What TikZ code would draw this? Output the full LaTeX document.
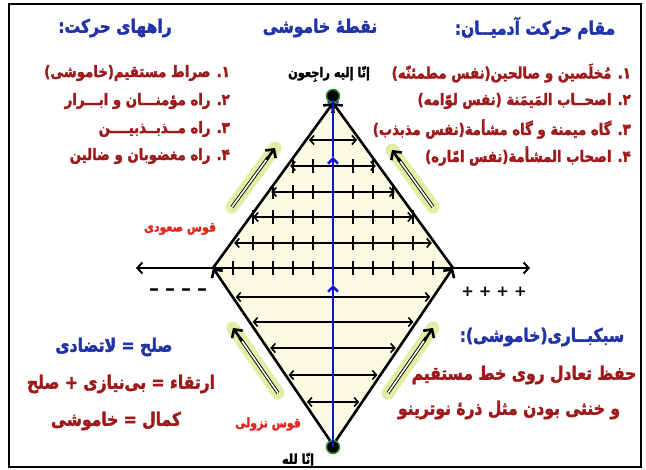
\documentclass[tikz,border=0pt]{standalone}
\usepackage{fontspec}
\newfontfamily\fa[Script=Arabic, FakeStretch=0.84, BoldFeatures={FakeBold=2}]{DejaVu Sans}
\newfontfamily\signs{DejaVu Sans}
\TeXXeTstate=1
\usetikzlibrary{arrows.meta, calc}
\definecolor{ttlblue}{HTML}{2233A8}
\definecolor{lstred}{HTML}{9E1A1A}
\definecolor{arcred}{HTML}{E2231E}
\definecolor{lineblue}{HTML}{1010E0}
\definecolor{cream}{HTML}{FAFBE2}
\definecolor{glow}{HTML}{D6EA86}
\definecolor{dotgreen}{HTML}{2E8B2E}

\begin{document}
\begin{tikzpicture}[x=1pt, y=-1pt,
  ttl/.style={font=\fa\bfseries\fontsize{18.5}{20}\selectfont, text=ttlblue, inner sep=0pt},
  lst/.style={font=\fa\bfseries\fontsize{15.8}{17}\selectfont, text=lstred, anchor=east, inner sep=0pt},
  big/.style={font=\fa\bfseries\fontsize{18.5}{20}\selectfont, text=lstred, inner sep=0pt},
  blk/.style={font=\fa\bfseries\fontsize{13.5}{15}\selectfont, text=black, inner sep=0pt},
  arc/.style={font=\fa\bfseries\fontsize{13}{15}\selectfont, text=arcred, inner sep=0pt},
  rowarr/.style={line width=1.6pt, {Straight Barb[length=4pt,width=9pt]}-{Straight Barb[length=4pt,width=9pt]}},
  edgearr/.style={line width=2.6pt, line cap=round, -{Straight Barb[length=6pt,width=13pt]}},
  bluearr/.style={lineblue, line width=2.4pt, -{Straight Barb[length=5pt,width=10pt]}},
  tickmark/.style={line width=1.6pt}]

\useasboundingbox (0,0) rectangle (646,470);
% frame
\draw[line width=1.5pt] (9,4) rectangle (641,467);

% Titles
\node[ttl] (ttlPaths) at (115,28) {\beginR راههای حرکت:\endR};
\node[ttl] (ttlPoint) at (320,28) {\beginR نقطهٔ خاموشی\endR};
\node[ttl] (ttlStation) at (535,28) {\beginR مقام حرکت آدمیــان:\endR};

% --- left list ---
\node[lst] (lstL1) at (230,73) {\beginR ۱. صراط مستقیم(خاموشی)\endR};
\node[lst] (lstL2) at (230,101) {\beginR ۲. راه مؤمنـــان و ابـــرار\endR};
\node[lst] (lstL3) at (230,129) {\beginR ۳. راه مــذبــذبیــــن\endR};
\node[lst] (lstL4) at (230,156) {\beginR ۴. راه مغضوبان و ضالین\endR};

% --- right list ---
\node[lst] (lstR1) at (631,73) {\beginR ۱. مُخلَصین و صالحین(نفس مطمئنّه)\endR};
\node[lst] (lstR2) at (631,101) {\beginR ۲. اصحــاب المَیمَنة (نفس لوّامه)\endR};
\node[lst] (lstR3) at (631,129) {\beginR ۳. گاه میمنة و گاه مشأمة(نفس مذبذب)\endR};
\node[lst] (lstR4) at (631,156) {\beginR ۴. اصحاب المشأمة(نفس امّاره)\endR};

% Diamond corners
\coordinate (top) at (333,103);
\coordinate (lft) at (213,268);
\coordinate (rgt) at (453,268);
\coordinate (bot) at (333,445);
\fill[cream] (top) -- (rgt) -- (bot) -- (lft) -- cycle;

% upper rows with ticks
\draw[rowarr] (309,140) -- (357,140);
\foreach \yy/\nt in {166/2, 192/3, 217/4, 243/4} {
  \pgfmathsetmacro\hw{(\yy-103)/165*120-3}
  \draw[rowarr] ({333-\hw},\yy) -- ({333+\hw},\yy);
  \foreach \k in {1,...,\nt} {
    \draw[tickmark] ({333-20*\k},\yy-7) -- ++(0,14);
    \draw[tickmark] ({333+20*\k},\yy-7) -- ++(0,14);
  }
}
% axis
\coordinate (axl) at (136,268);
\coordinate (axr) at (530,268);
\draw[line width=2pt, {Straight Barb[length=5pt,width=11pt]}-{Straight Barb[length=5pt,width=11pt]}] (axl) -- (axr);
\foreach \k in {1,...,5} {
  \draw[tickmark] ({333-20*\k},261) -- ++(0,14);
  \draw[tickmark] ({333+20*\k},261) -- ++(0,14);
}
% lower rows
\foreach \yy in {297, 322, 348, 375, 402} {
  \pgfmathsetmacro\hw{(445-\yy)/177*120-3}
  \draw[rowarr] ({333-\hw},\yy) -- ({333+\hw},\yy);
}

% diamond edges
\draw[edgearr] (bot) -- (lft);
\draw[edgearr] (lft) -- (top);
\draw[edgearr] (bot) -- (rgt);
\draw[edgearr] (rgt) -- (top);

% blue centre line
\coordinate (bdot) at (333,447);
\coordinate (tdot) at (333,96);
\coordinate (bmid) at (333,285);
\coordinate (tmid) at (333,157);
\draw[bluearr] (bdot) -- (bmid);
\draw[bluearr] (bmid) -- (tmid);
\draw[bluearr] (tmid) -- (tdot);
\filldraw[fill=black, draw=dotgreen, line width=1.5pt] (tdot) circle (6.5);
\filldraw[fill=black, draw=dotgreen, line width=1.5pt] (bdot) circle (6.5);
\draw[lineblue, line width=2.4pt] (333,100) -- (333,104);
\draw[lineblue, line width=2.4pt] (bdot) -- ++(0,-7);

% glow arrows
\foreach \xa/\ya/\xb/\yb in {232/207/275/148, 433/207/392/150, 278/393/233/328, 388/393/433/328} {
  \draw[glow, line width=13pt, line cap=round, opacity=0.75] (\xa,\ya) -- (\xb,\yb);
  \draw[double=white, double distance=1.6pt, line width=0.9pt] (\xa,\ya) -- ($(\xa,\ya)!0.85!(\xb,\yb)$);
  \draw[line width=2.6pt, -{Straight Barb[length=6pt,width=13pt]}] ($(\xa,\ya)!0.8!(\xb,\yb)$) -- (\xb,\yb);
}

% labels round the diamond
\node[blk] (txtReturn) at (329,74) {\beginR إنّا إليه راجِعون\endR};
\node[blk] (txtFrom) at (298,460) {\beginR إنّا لله\endR};
\node[arc] (arcUp) at (180,229) {\beginR قوس صعودی\endR};
\node[arc] (arcDown) at (268,424) {\beginR قوس نزولی\endR};
\node[font=\signs\bfseries\fontsize{20}{22}\selectfont] (minus) at (178,292) {–\hspace{6pt}–\hspace{6pt}–\hspace{6pt}–};
\node[font=\signs\bfseries\fontsize{15}{17}\selectfont] (plus) at (494,292) {+\hspace{5pt}+\hspace{5pt}+\hspace{5pt}+};

% lower left texts
\node[ttl] (txtPeace) at (114,347) {\beginR صلح = لاتضادی\endR};
\node[big] (txtRise) at (121,384) {\beginR ارتقاء = بی‌نیازی + صلح\endR};
\node[big] (txtPerf) at (116,421) {\beginR کمال = خاموشی\endR};

% lower right texts
\node[ttl] (txtLight) at (542,337) {\beginR سبکبــاری(خاموشی):\endR};
\node[big] (txtKeep) at (524,375) {\beginR حفظ تعادل روی خط مستقیم\endR};
\node[big] (txtNeut) at (509,410) {\beginR و خنثی بودن مثل ذرهٔ نوترینو\endR};

\end{tikzpicture}
\end{document}
